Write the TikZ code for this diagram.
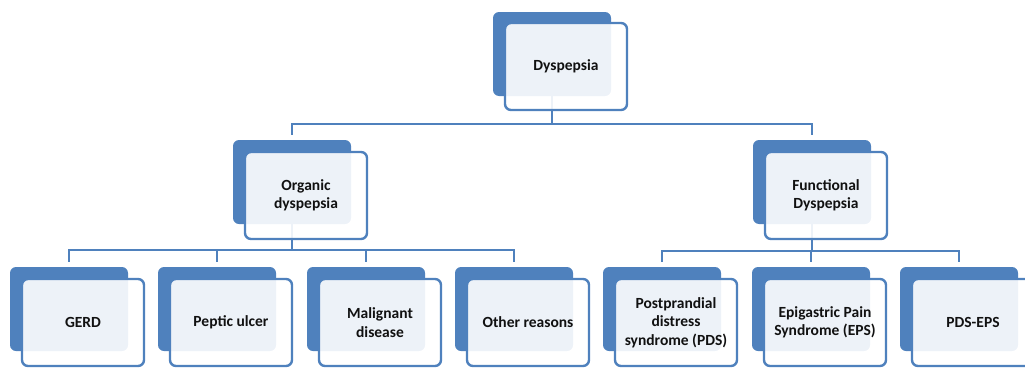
\documentclass[tikz,border=0pt]{standalone}
\usepackage{fontspec}
\setmainfont{Carlito}
\usetikzlibrary{backgrounds}
\definecolor{bblue}{HTML}{4F81BD}
\definecolor{txt}{HTML}{111111}
\begin{document}
\begin{tikzpicture}[x=1pt,y=-1pt,
 backbox/.style={rectangle, rounded corners=6pt, fill=bblue, minimum width=118pt, minimum height=84pt, inner sep=0pt, outer sep=0pt, anchor=north west},
 frontbox/.style={rectangle, rounded corners=6pt, draw=bblue, line width=2.4pt, fill=white, fill opacity=0.9, text opacity=1, minimum width=122pt, minimum height=87pt, inner sep=0pt, outer sep=0pt, anchor=north west, align=center, font=\bfseries\fontsize{15.5}{18.5}\selectfont, text=txt},
 link/.style={draw=bblue, line width=2.2pt}]
\useasboundingbox (0,0) rectangle (1025,367);
% level 1
\node[backbox] (topb) at (493,12) {};
\node[frontbox] (topf) at (505,23) {Dyspepsia};
% level 2
\node[backbox] (orgb) at (233,140) {};
\node[frontbox] (orgf) at (245,152) {Organic\\dyspepsia};
\node[backbox] (funb) at (753,140) {};
\node[frontbox] (funf) at (765,152) {Functional\\Dyspepsia};
% level 3
\node[backbox] (gerdb) at (10,267) {};
\node[frontbox] (gerdf) at (22,279) {GERD};
\node[backbox] (pepb) at (158,267) {};
\node[frontbox] (pepf) at (170,279) {Peptic ulcer};
\node[backbox] (malb) at (307,267) {};
\node[frontbox] (malf) at (319,279) {Malignant\\disease};
\node[backbox] (othb) at (455,267) {};
\node[frontbox] (othf) at (467,279) {Other reasons};
\node[backbox] (pdsb) at (603,267) {};
\node[frontbox] (pdsf) at (615,279) {Postprandial\\distress\\syndrome (PDS)};
\node[backbox] (epsb) at (752,267) {};
\node[frontbox] (epsf) at (764,279) {Epigastric Pain\\Syndrome (EPS)};
\node[backbox] (pebb) at (900,267) {};
\node[frontbox] (pebf) at (912,279) {PDS-EPS};
% connectors
\begin{scope}[on background layer]
\draw[link] (topb.south) -- (topb.south |- 0,124) -| ([yshift=5pt]orgb.north);
\draw[link] (topb.south) -- (topb.south |- 0,124) -| ([yshift=5pt]funb.north);
\foreach \c in {gerdb,pepb,malb,othb}
  \draw[link] (orgb.south) -- (orgb.south |- 0,250) -| ([yshift=5pt]\c.north);
\foreach \c in {pdsb,epsb,pebb}
  \draw[link] (funb.south) -- (funb.south |- 0,251) -| ([yshift=5pt]\c.north);
\end{scope}
\end{tikzpicture}
\end{document}
